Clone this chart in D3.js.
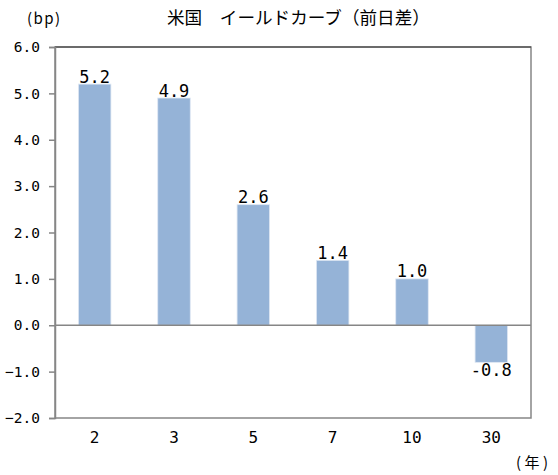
<!DOCTYPE html>
<html>
<head>
<meta charset="utf-8">
<script src="https://cdn.jsdelivr.net/npm/d3@7"></script>
<style>
body { margin: 0; background: #fff; }
</style>
</head>
<body>
<svg id="chart" width="558" height="475"></svg>
<script>
const maturities = ["2", "3", "5", "7", "10", "30"];
const changes = [5.2, 4.9, 2.6, 1.4, 1.0, -0.8];
const yTicks = [-2, -1, 0, 1, 2, 3, 4, 5, 6];

const plotLeft = 55;
const plotRight = 531;
const plotTop = 47;
const plotBottom = 418;
const barColor = "#95b3d7";
const axisGrey = "#868686";
const numFont = "'DejaVu Sans Mono', monospace";
const jpFont = "'Noto Sans CJK JP', sans-serif";

const svg = d3.select("#chart");

const x = d3.scaleBand()
    .domain(maturities)
    .range([plotLeft, plotRight])
    .paddingInner(0.59)
    .paddingOuter(0.295);

const y = d3.scaleLinear()
    .domain([-2, 6])
    .range([plotBottom, plotTop]);

// plot box
svg.append("rect")
    .attr("x", plotLeft)
    .attr("y", plotTop)
    .attr("width", plotRight - plotLeft)
    .attr("height", plotBottom - plotTop)
    .attr("fill", "none")
    .attr("stroke", axisGrey)
    .attr("stroke-width", 1.5);

svg.append("line")
    .attr("x1", plotLeft)
    .attr("x2", plotRight)
    .attr("y1", plotTop)
    .attr("y2", plotTop)
    .attr("stroke", "#333")
    .attr("stroke-width", 1.2);

// y axis
const yAxis = svg.append("g")
    .attr("transform", `translate(${plotLeft},0)`)
    .call(d3.axisLeft(y).tickValues(yTicks).tickFormat(d3.format(".1f")).tickSize(6).tickPadding(9));

yAxis.select(".domain").attr("stroke", axisGrey).attr("stroke-width", 1.5);
yAxis.selectAll(".tick line").attr("stroke", axisGrey).attr("stroke-width", 1.5);
yAxis.selectAll(".tick text")
    .style("font-family", numFont)
    .style("font-size", "14.5px")
    .attr("fill", "#000");

// bars
svg.selectAll(".bar")
    .data(changes)
    .enter()
    .append("rect")
    .attr("class", "bar")
    .attr("x", (d, i) => x(maturities[i]))
    .attr("width", x.bandwidth())
    .attr("y", d => y(Math.max(0, d)))
    .attr("height", d => Math.abs(y(d) - y(0)))
    .attr("fill", barColor)
    .attr("stroke", "#dfe8f3")
    .attr("stroke-width", 0.8);

// zero line
svg.append("line")
    .attr("x1", plotLeft)
    .attr("x2", plotRight)
    .attr("y1", y(0))
    .attr("y2", y(0))
    .attr("stroke", axisGrey)
    .attr("stroke-width", 1.5);

// value labels
svg.selectAll(".value")
    .data(changes)
    .enter()
    .append("text")
    .attr("class", "value")
    .attr("x", (d, i) => x(maturities[i]) + x.bandwidth() / 2)
    .attr("y", d => d >= 0 ? y(d) - 1.5 : y(d) + 14)
    .attr("text-anchor", "middle")
    .style("font-family", numFont)
    .style("font-size", "17px")
    .text(d => d.toFixed(1));

// category labels
svg.selectAll(".cat")
    .data(maturities)
    .enter()
    .append("text")
    .attr("class", "cat")
    .attr("x", d => x(d) + x.bandwidth() / 2)
    .attr("y", 443)
    .attr("text-anchor", "middle")
    .style("font-family", numFont)
    .style("font-size", "16px")
    .text(d => d);

// titles
svg.append("text")
    .attr("x", 167)
    .attr("y", 24)
    .style("font-family", jpFont)
    .style("font-size", "17.6px")
    .text("米国　イールドカーブ（前日差）");

svg.append("text")
    .attr("x", 27)
    .attr("y", 24)
    .style("font-family", jpFont)
    .style("font-size", "15px")
    .attr("textLength", 33)
    .attr("lengthAdjust", "spacing")
    .text("(bp)");

svg.append("text")
    .attr("x", 516)
    .attr("y", 468)
    .style("font-family", jpFont)
    .style("font-size", "15px")
    .attr("textLength", 32)
    .attr("lengthAdjust", "spacing")
    .text("(年)");
</script>
</body>
</html>
